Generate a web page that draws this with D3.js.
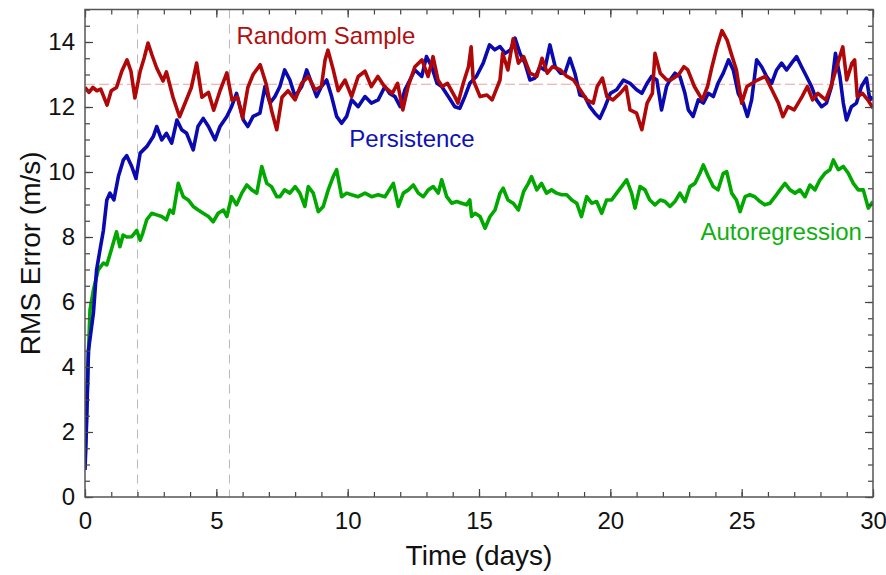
<!DOCTYPE html>
<html>
<head>
<meta charset="utf-8">
<script src="https://cdn.jsdelivr.net/npm/d3@7"></script>
<style>
  body { margin: 0; background: #fff; }
  text { font-family: "Liberation Sans", Arial, sans-serif; }
</style>
</head>
<body>
<div id="chart"></div>
<script>
// values: [day, RMS error]
var randomSample = [
  [0,12.6],[0.15,12.45],[0.3,12.6],[0.45,12.5],[0.6,12.55],[0.84,12.06],[1.0,12.5],[1.2,12.6],[1.4,13.1],[1.6,13.45],
  [1.75,13.1],[1.9,12.28],[2.1,13.1],[2.25,13.5],[2.4,13.97],[2.55,13.6],[2.73,13.2],[2.97,12.8],[3.1,13.08],[3.35,12.3],
  [3.6,11.7],[3.9,12.3],[4.05,12.6],[4.25,13.35],[4.45,12.3],[4.7,12.45],[4.9,11.9],[5.14,12.5],[5.4,13.05],[5.6,12.2],
  [5.8,12.32],[6.0,11.66],[6.2,12.6],[6.4,13.0],[6.67,13.3],[6.9,12.7],[7.1,11.9],[7.3,11.3],[7.5,12.3],[7.73,12.5],
  [8.0,12.22],[8.25,12.73],[8.5,12.94],[8.76,12.53],[9.0,12.63],[9.14,13.45],[9.25,13.75],[9.45,13.15],[9.64,12.5],[9.9,12.83],
  [10.15,12.32],[10.4,12.94],[10.66,13.1],[10.9,12.63],[11.15,12.94],[11.4,12.63],[11.7,12.42],[11.9,12.73],[12.1,11.91],[12.3,12.63],
  [12.56,13.24],[12.83,13.45],[13.06,12.94],[13.25,13.55],[13.44,12.83],[13.6,12.63],[13.8,12.73],[14.08,12.32],[14.2,12.12],[14.4,12.73],
  [14.6,13.24],[14.7,13.85],[14.78,12.83],[15.04,12.32],[15.3,12.37],[15.5,12.22],[15.8,12.83],[15.9,13.65],[16.1,13.14],[16.3,14.1],
  [16.5,13.35],[16.7,13.55],[16.94,13.04],[17.2,12.94],[17.4,13.5],[17.6,13.04],[17.8,13.24],[18.1,13.14],[18.35,12.94],[18.6,12.83],
  [18.85,12.53],[19.1,12.22],[19.35,12.12],[19.5,12.63],[19.7,12.89],[19.87,12.32],[20.1,12.22],[20.37,12.42],[20.6,12.63],[20.75,11.91],
  [21.0,11.81],[21.2,11.3],[21.4,12.12],[21.6,12.42],[21.7,13.65],[21.9,13.04],[22.15,12.83],[22.3,12.83],[22.6,12.99],[22.8,13.24],
  [22.95,13.14],[23.2,12.63],[23.5,12.22],[23.7,12.63],[23.87,13.24],[24.06,13.85],[24.25,14.35],[24.45,14.05],[24.6,13.65],[24.8,13.14],
  [25.0,12.12],[25.2,12.63],[25.4,12.73],[25.6,12.83],[25.9,12.94],[26.15,12.53],[26.4,12.12],[26.57,11.7],[26.76,12.01],[27.0,11.91],
  [27.3,12.32],[27.5,12.63],[27.7,12.22],[27.9,12.42],[28.2,12.22],[28.4,12.63],[28.66,13.35],[28.85,13.85],[29.0,12.83],[29.2,13.35],
  [29.3,13.45],[29.4,12.32],[29.6,12.42],[29.8,12.22],[30,11.97]
];

var persistence = [
  [0,0.83],[0.06,2.3],[0.13,4.5],[0.32,5.66],[0.44,6.98],[0.57,7.6],[0.7,8.2],[0.83,9.14],[0.95,9.35],[1.1,9.14],
  [1.27,9.86],[1.46,10.37],[1.59,10.5],[1.78,10.17],[1.94,9.8],[2.1,10.58],[2.35,10.78],[2.6,11.09],[2.73,11.4],[2.92,10.99],
  [3.1,11.19],[3.3,10.89],[3.5,11.6],[3.68,11.3],[3.87,11.19],[4.12,10.68],[4.3,11.4],[4.5,11.65],[4.7,11.4],[4.95,10.99],
  [5.14,11.4],[5.4,11.71],[5.58,12.01],[5.77,12.42],[6.03,11.6],[6.2,11.4],[6.4,11.71],[6.66,11.81],[6.85,12.63],[7.04,12.12],
  [7.23,12.32],[7.42,12.63],[7.6,13.14],[7.8,12.83],[8.0,12.32],[8.25,12.63],[8.44,13.14],[8.63,12.73],[8.82,12.32],[9.0,12.63],
  [9.2,12.83],[9.39,12.32],[9.58,11.71],[9.77,11.5],[9.96,11.71],[10.15,12.22],[10.4,12.01],[10.66,12.32],[10.9,12.12],[11.16,12.22],
  [11.42,12.63],[11.6,12.42],[11.8,12.32],[12.0,12.01],[12.18,12.53],[12.37,12.83],[12.56,13.14],[12.82,12.94],[13.0,13.55],[13.2,13.24],
  [13.4,12.73],[13.58,12.63],[13.83,12.32],[14.08,12.01],[14.27,11.96],[14.46,12.32],[14.65,12.73],[14.9,12.94],[15.16,13.35],[15.4,13.91],
  [15.6,13.76],[15.8,13.86],[16.0,13.65],[16.2,13.76],[16.37,14.12],[16.56,13.65],[16.75,13.35],[16.94,12.83],[17.13,12.89],[17.32,13.24],
  [17.5,13.14],[17.7,13.91],[17.9,13.24],[18.1,13.04],[18.27,13.04],[18.46,13.5],[18.65,13.04],[18.84,12.37],[19.03,12.32],[19.22,12.01],
  [19.41,11.81],[19.6,11.65],[19.8,12.01],[20.0,12.42],[20.24,12.53],[20.5,12.83],[20.75,12.73],[21.0,12.53],[21.2,12.42],[21.4,12.73],
  [21.57,12.94],[21.77,12.83],[21.95,11.91],[22.14,12.63],[22.27,12.83],[22.46,13.04],[22.65,12.94],[22.84,12.42],[22.97,11.91],[23.15,11.71],
  [23.35,12.22],[23.54,12.12],[23.73,12.42],[23.92,12.32],[24.1,12.73],[24.3,13.04],[24.5,13.45],[24.68,13.14],[24.87,12.42],[25.06,12.12],
  [25.22,11.71],[25.38,12.22],[25.57,13.45],[25.76,13.24],[25.95,12.94],[26.14,12.73],[26.33,13.14],[26.52,13.35],[26.71,13.14],[26.9,13.35],
  [27.09,13.55],[27.28,13.24],[27.47,12.94],[27.66,12.63],[27.85,12.22],[28.04,12.01],[28.23,12.12],[28.42,12.63],[28.57,13.65],[28.74,12.94],
  [28.87,12.12],[28.99,11.6],[29.18,12.01],[29.37,12.12],[29.56,12.63],[29.75,12.89],[29.88,12.22],[30,12.3]
];

var autoregression = [
  [0,1.0],[0.06,2.5],[0.13,4.4],[0.19,5.75],[0.32,6.37],[0.5,6.98],[0.7,7.2],[0.83,7.14],[1.0,7.6],[1.2,8.16],
  [1.33,7.7],[1.45,8.06],[1.59,8.0],[1.78,8.01],[1.97,8.2],[2.1,7.9],[2.2,8.12],[2.35,8.53],[2.54,8.73],[2.73,8.68],
  [2.92,8.63],[3.1,8.53],[3.23,8.83],[3.36,8.73],[3.55,9.65],[3.74,9.24],[3.93,9.14],[4.12,8.94],[4.31,8.83],[4.5,8.73],
  [4.7,8.63],[4.88,8.47],[5.07,8.73],[5.27,8.83],[5.4,8.63],[5.58,9.24],[5.77,8.99],[5.97,9.35],[6.16,9.6],[6.35,9.45],
  [6.54,9.35],[6.73,10.17],[6.92,9.65],[7.1,9.55],[7.3,9.24],[7.42,9.24],[7.6,9.45],[7.8,9.35],[8.0,9.55],[8.18,9.35],
  [8.37,8.94],[8.5,9.55],[8.69,9.35],[8.88,8.78],[9.07,8.94],[9.26,9.45],[9.45,9.86],[9.58,10.07],[9.77,9.24],[9.96,9.35],
  [10.15,9.3],[10.4,9.24],[10.66,9.35],[10.91,9.24],[11.16,9.3],[11.42,9.24],[11.74,9.65],[11.93,8.94],[12.12,9.35],[12.31,9.45],
  [12.5,9.6],[12.69,9.35],[12.88,9.24],[13.07,9.45],[13.26,9.55],[13.45,9.35],[13.58,9.76],[13.77,9.24],[13.96,9.04],[14.15,9.09],
  [14.34,9.04],[14.53,8.99],[14.65,9.14],[14.72,8.63],[14.85,8.73],[15.04,8.63],[15.23,8.27],[15.42,8.63],[15.61,8.83],[15.8,9.35],
  [15.92,9.5],[16.1,9.14],[16.3,9.04],[16.5,8.83],[16.7,9.4],[16.88,9.65],[17.0,9.86],[17.2,9.45],[17.38,9.65],[17.57,9.35],
  [17.76,9.45],[17.95,9.35],[18.15,9.3],[18.34,9.3],[18.53,9.14],[18.72,9.04],[18.9,8.63],[19.1,9.24],[19.29,9.04],[19.48,9.09],
  [19.67,8.73],[19.86,9.14],[20.05,9.14],[20.24,9.35],[20.43,9.55],[20.62,9.76],[20.81,9.35],[20.94,8.89],[21.13,9.55],[21.32,9.45],
  [21.5,9.14],[21.7,8.99],[21.9,9.14],[22.08,9.09],[22.27,8.94],[22.46,9.09],[22.65,9.35],[22.84,9.09],[23.03,9.55],[23.22,9.65],
  [23.41,9.96],[23.54,10.22],[23.73,9.86],[23.92,9.55],[24.1,9.45],[24.3,9.96],[24.43,10.01],[24.62,9.35],[24.8,9.14],[24.94,8.78],
  [25.13,9.24],[25.31,9.3],[25.5,9.24],[25.7,9.09],[25.88,8.99],[26.08,9.04],[26.27,9.24],[26.46,9.45],[26.65,9.65],[26.84,9.45],
  [27.03,9.35],[27.22,9.45],[27.41,9.24],[27.6,9.6],[27.79,9.45],[27.98,9.76],[28.17,9.96],[28.36,10.07],[28.49,10.37],[28.68,10.07],
  [28.87,10.17],[29.06,9.96],[29.25,9.65],[29.44,9.45],[29.63,9.45],[29.82,8.89],[30,9.09]
];

var randomMean = 12.7;        // faint dashed reference level
var markerDays = [2, 5.5];    // dashed vertical guides
var xMajor = [0, 5, 10, 15, 20, 25, 30];
var yMajor = [0, 2, 4, 6, 8, 10, 12, 14];

var svgWidth = 886, svgHeight = 575;
var margin = { top: 9.5, right: 13, bottom: 78, left: 85 };
var width = svgWidth - margin.left - margin.right;
var height = svgHeight - margin.top - margin.bottom;

var svg = d3.select("#chart").append("svg")
  .attr("width", svgWidth)
  .attr("height", svgHeight);

var chartGroup = svg.append("g")
  .attr("transform", `translate(${margin.left}, ${margin.top})`);

var x = d3.scaleLinear().domain([0, 30]).range([0, width]);
var y = d3.scaleLinear().domain([0, 15]).range([height, 0]);

svg.append("defs").append("clipPath").attr("id", "plotClip")
  .append("rect").attr("width", width).attr("height", height);

// guides
chartGroup.selectAll(".guide")
  .data(markerDays)
  .enter().append("line")
  .attr("x1", d => x(d)).attr("x2", d => x(d))
  .attr("y1", 0).attr("y2", height)
  .attr("stroke", "#b8b8b8")
  .attr("stroke-width", 1)
  .attr("stroke-dasharray", "9,6");

chartGroup.append("line")
  .attr("x1", 0).attr("x2", width)
  .attr("y1", y(randomMean)).attr("y2", y(randomMean))
  .attr("stroke", "#eaa3a3")
  .attr("stroke-width", 1)
  .attr("stroke-dasharray", "10,4");

// series
var line = d3.line().x(d => x(d[0])).y(d => y(d[1]));
var series = [
  { data: autoregression, color: "#00a800" },
  { data: persistence, color: "#0a0ab0" },
  { data: randomSample, color: "#b00808" }
];
var lines = chartGroup.append("g").attr("clip-path", "url(#plotClip)");
series.forEach(function (s) {
  lines.append("path")
    .datum(s.data)
    .attr("d", line)
    .attr("fill", "none")
    .attr("stroke", s.color)
    .attr("stroke-width", 3.6)
    .attr("stroke-linejoin", "round");
});

// axes, ticks inward on all four sides
function styleAxis(g) {
  g.select(".domain").remove();
  g.selectAll(".tick line").attr("stroke", "#444").attr("stroke-width", 1.2);
  g.selectAll("text").attr("font-size", "24px").attr("fill", "#111");
}

chartGroup.append("g")
  .attr("transform", `translate(0, ${height})`)
  .call(d3.axisBottom(x).tickValues(xMajor).tickSize(-8).tickPadding(15).tickFormat(d3.format("d")))
  .call(styleAxis);
chartGroup.append("g")
  .attr("transform", `translate(0, ${height})`)
  .call(d3.axisBottom(x).tickValues(d3.range(0, 31, 1)).tickSize(-5).tickFormat(""))
  .call(styleAxis);
chartGroup.append("g")
  .call(d3.axisTop(x).tickValues(xMajor).tickSize(-8).tickFormat(""))
  .call(styleAxis);
chartGroup.append("g")
  .call(d3.axisTop(x).tickValues(d3.range(0, 31, 1)).tickSize(-5).tickFormat(""))
  .call(styleAxis);

chartGroup.append("g")
  .call(d3.axisLeft(y).tickValues(yMajor).tickSize(-8).tickPadding(10).tickFormat(d3.format("d")))
  .call(styleAxis);
chartGroup.append("g")
  .call(d3.axisLeft(y).tickValues(d3.range(0, 15.01, 0.5)).tickSize(-5).tickFormat(""))
  .call(styleAxis);
chartGroup.append("g")
  .attr("transform", `translate(${width}, 0)`)
  .call(d3.axisRight(y).tickValues(yMajor).tickSize(-8).tickFormat(""))
  .call(styleAxis);
chartGroup.append("g")
  .attr("transform", `translate(${width}, 0)`)
  .call(d3.axisRight(y).tickValues(d3.range(0, 15.01, 0.5)).tickSize(-5).tickFormat(""))
  .call(styleAxis);

// frame
chartGroup.append("rect")
  .attr("width", width).attr("height", height)
  .attr("fill", "none")
  .attr("stroke", "#555")
  .attr("stroke-width", 1.5);

// series labels
var labels = [
  { text: "Random Sample", day: 9.17, val: 13.94, color: "#b01010" },
  { text: "Persistence", day: 12.45, val: 10.77, color: "#1010b8" },
  { text: "Autoregression", day: 29.58, val: 7.9, color: "#10b010", anchor: "end" }
];
chartGroup.selectAll(".lbl")
  .data(labels)
  .enter().append("text")
  .attr("x", d => x(d.day))
  .attr("y", d => y(d.val))
  .attr("text-anchor", d => d.anchor || "middle")
  .attr("font-size", "24px")
  .attr("fill", d => d.color)
  .text(d => d.text);

// axis titles
chartGroup.append("text")
  .attr("transform", "rotate(-90)")
  .attr("x", -height / 2)
  .attr("y", -margin.left + 40)
  .attr("text-anchor", "middle")
  .attr("font-size", "28px")
  .attr("fill", "#111")
  .text("RMS Error (m/s)");

chartGroup.append("text")
  .attr("x", width / 2)
  .attr("y", height + 68)
  .attr("text-anchor", "middle")
  .attr("font-size", "28px")
  .attr("fill", "#111")
  .text("Time (days)");
</script>
</body>
</html>
